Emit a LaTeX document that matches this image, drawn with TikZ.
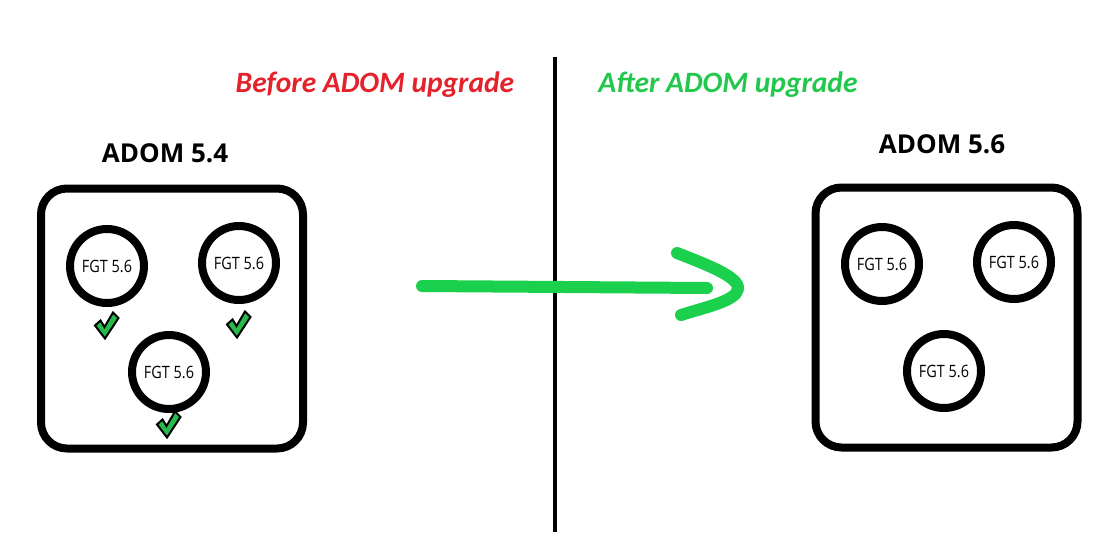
\documentclass[tikz,border=0pt]{standalone}
\usepackage{fontspec}
\setmainfont{Open Sans}
\newfontfamily\headfont{Carlito}
\newfontfamily\fgtfont[FakeStretch=0.85]{Open Sans}
\definecolor{hred}{RGB}{228,34,44}
\definecolor{hgreen}{RGB}{34,200,76}
\definecolor{agreen}{RGB}{26,208,76}
\definecolor{cgreen}{RGB}{40,185,75}
\tikzset{
  adombox/.style={draw=black, line width=8pt, rounded corners=26pt, rectangle, minimum width=262pt, minimum height=260pt, inner sep=0pt},
  fgt/.style={draw=black, line width=8pt, circle, minimum size=74pt, inner sep=0pt, font=\fgtfont\fontsize{17}{20}\selectfont},
  title/.style={font=\bfseries\fontsize{26}{30}\selectfont, inner sep=0pt},
  heading/.style={font=\headfont\bfseries\itshape\fontsize{29.5}{34}\selectfont, inner sep=0pt},
  greenstroke/.style={draw=agreen, line width=12pt, line cap=round, line join=round},
  checkmark/.pic={\filldraw[fill=cgreen, draw=black, line width=2pt, line join=miter]
     (-10,-12.5) -- (-4.5,-17.5) -- (-0.5,-11) -- (8,-25.5) -- (13.5,-20) -- (0,0.5) -- cycle;}
}
\begin{document}
\begin{tikzpicture}[x=1pt,y=-1pt]
\useasboundingbox (0,0) rectangle (1114,544);
\fill[white] (0,0) rectangle (1114,544);
% divider
\coordinate (dtop) at (555,57);
\coordinate (dbot) at (555,532);
\draw[line width=3.5pt] (dtop) -- (dbot);
% headings
\node[heading, text=hred] (before) at (375,85) {Before ADOM upgrade};
\node[heading, text=hgreen] (after) at (728,85) {After ADOM upgrade};
% left
\node[title] (t54) at (165,153) {ADOM 5.4};
\node[adombox] (box54) at (172,318.5) {};
\node[fgt] (l1) at (107,266) {FGT 5.6};
\node[fgt] (l2) at (239,263) {FGT 5.6};
\node[fgt] (l3) at (169,372) {FGT 5.6};
\pic at (105,338) {checkmark};
\pic at (237,337) {checkmark};
\pic at (167,437) {checkmark};
% right
\node[title] (t56) at (942,144) {ADOM 5.6};
\node[adombox] (box56) at (946.5,317.5) {};
\node[fgt] (r1) at (882,264) {FGT 5.6};
\node[fgt] (r2) at (1014,262) {FGT 5.6};
\node[fgt] (r3) at (944,371) {FGT 5.6};
% arrow
\coordinate (as) at (422,286);
\coordinate (ae) at (707,288);
\coordinate (h1) at (677,253);
\coordinate (h2) at (738,289);
\coordinate (h3) at (681,315);
\draw[greenstroke] (as) -- (ae);
\draw[greenstroke] (h1) .. controls (705,264) and (740,277) .. (h2) .. controls (736,301) and (706,307) .. (h3);
\end{tikzpicture}
\end{document}
